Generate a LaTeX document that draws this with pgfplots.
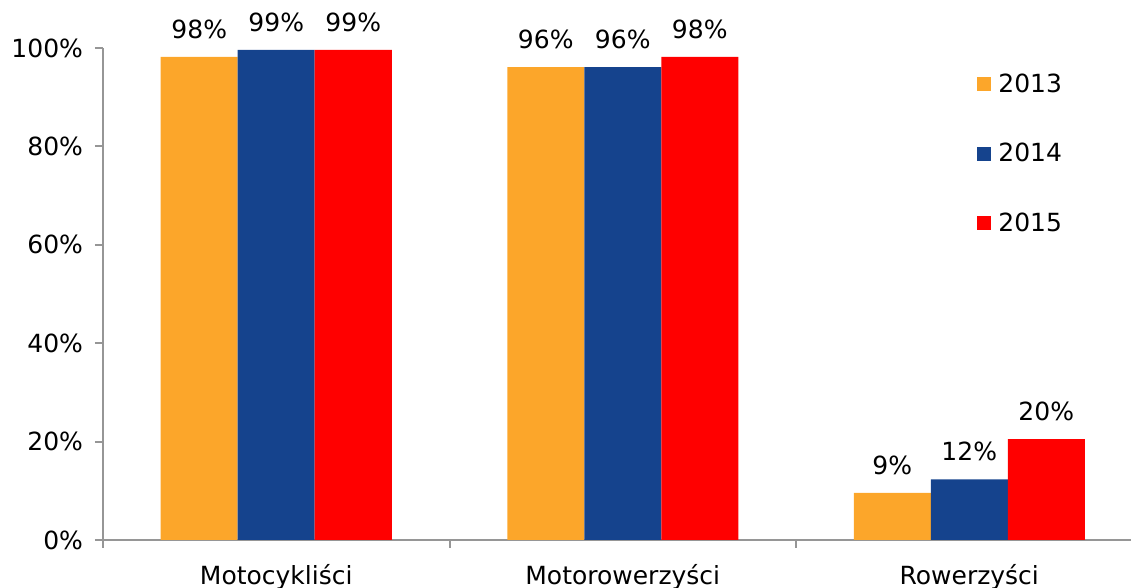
\documentclass[border=0pt]{standalone}
\usepackage{pgfplots}
\pgfplotsset{compat=1.18}
\usepackage{fontspec}
\setmainfont{DejaVu Sans}
\definecolor{c2013}{RGB}{252,166,42}
\definecolor{c2014}{RGB}{21,67,141}
\definecolor{c2015}{RGB}{255,0,0}
\definecolor{axisgray}{RGB}{150,150,150}
\newcommand{\chartfont}{\fontsize{12.5pt}{15pt}\selectfont}
\begin{document}
\begin{tikzpicture}
\begin{axis}[
  at={(0,0)}, anchor=south west,
  scale only axis,
  width=519.75pt, height=246pt,
  xmin=-0.5, xmax=2.5, ymin=0, ymax=100,
  ybar=0pt, bar width=38.5pt,
  clip=false,
  axis x line*=bottom, axis y line*=left,
  axis line style={axisgray, line width=1pt},
  tick align=outside,
  major tick length=4pt,
  tick style={axisgray, line width=1pt},
  ytick={0,20,40,60,80,100},
  yticklabel={\pgfmathprintnumber{\tick}\%},
  /pgf/number format/assume math mode=true,
  yticklabel style={font=\chartfont, xshift=-2.5pt},
  xtick={-0.5,0.5,1.5,2.5},
  xticklabels={},
  extra x ticks={0,1,2},
  extra x tick labels={Motocykliści,Motorowerzyści,Rowerzyści},
  extra x tick style={major tick length=0pt, tick style={draw=none},
    xticklabel style={font=\chartfont, yshift=-8.5pt}},
  nodes near coords,
  point meta=explicit symbolic,
  every node near coord/.append style={font=\chartfont, inner sep=0pt, yshift=9pt},
  legend image code/.code={\fill[#1] (0pt,-3.5pt) rectangle (7pt,3.5pt); \path (8.5pt,0pt);},
  legend style={at={(0.8408,0.957)}, anchor=north west, draw=none, fill=none,
    font=\chartfont, row sep=20pt, inner sep=0pt},
  legend cell align=left,
]
\addplot[fill=c2013, draw=none] coordinates {(0,98.2) [98\%] (1,96.1) [96\%] (2,9.6) [9\%]};
\addplot[fill=c2014, draw=none] coordinates {(0,99.6) [99\%] (1,96.1) [96\%] (2,12.3) [12\%]};
\addplot[fill=c2015, draw=none] coordinates {(0,99.6) [99\%] (1,98.2) [98\%] (2,20.5) [20\%]};
\legend{2013,2014,2015}
\end{axis}
\pgfresetboundingbox
\path[use as bounding box] (-51.5pt,-24pt) rectangle (514pt,270pt);
\end{tikzpicture}
\end{document}
